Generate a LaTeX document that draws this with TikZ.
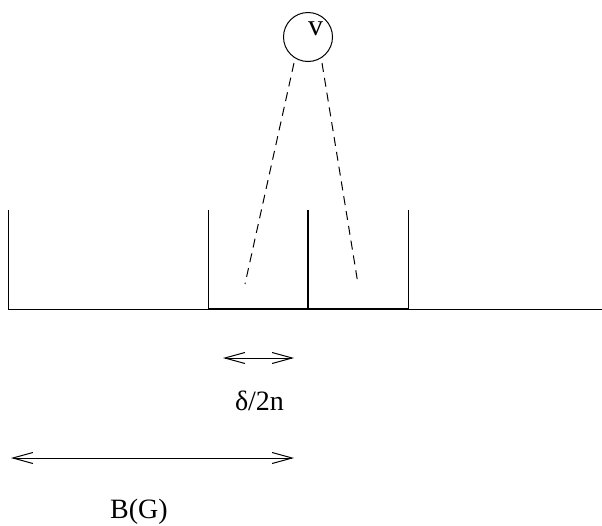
\documentclass[tikz,border=0pt]{standalone}
\usepackage{fontspec}
\setmainfont{Liberation Serif}
\usetikzlibrary{arrows.meta}
\begin{document}
\begin{tikzpicture}[x=1pt,y=-1pt,
  thinline/.style={line width=1pt},
  thickline/.style={line width=1.7pt},
  dashline/.style={line width=1pt,dash pattern=on 9pt off 6pt},
  dimarrow/.style={line width=1pt,{Straight Barb[length=20pt,width=11pt]}-{Straight Barb[length=20pt,width=11pt]}},
  lbl/.style={font=\fontsize{28}{32}\selectfont,inner sep=0pt,anchor=base}]
\useasboundingbox (0,0) rectangle (602,525);
% vertex
\node[draw,circle,line width=1pt,minimum size=49pt,inner sep=0pt] (v) at (308,37) {};
\node[lbl,font=\fontsize{30}{32}\selectfont] (vl) at (315.5,35) {v};
% base line and walls
\coordinate (b0) at (8,309);
\coordinate (b1) at (208,309);
\coordinate (b2) at (308,309);
\coordinate (b3) at (408,309);
\coordinate (b4) at (602,309);
\coordinate (t0) at (8,210);
\coordinate (t1) at (208,210);
\coordinate (t2) at (308,210);
\coordinate (t3) at (408,210);
\draw[thinline] (b0) -- (b1);
\draw[thinline] (b3) -- (b4);
\draw[thickline] (b1) -- (b3);
\draw[thinline] (t0) -- (b0);
\draw[thinline] (t1) -- (b1);
\draw[thickline] (t2) -- (b2);
\draw[thinline] (t3) -- (b3);
% dashed rays
\coordinate (l1) at (294,63);
\coordinate (l2) at (245,284);
\coordinate (r1) at (322,63);
\coordinate (r2) at (358,284);
\draw[dashline] (l1) -- (l2);
\draw[dashline] (r1) -- (r2);
% dimensions
\coordinate (s1) at (223,358);
\coordinate (s2) at (294,358);
\draw[dimarrow] (s1) -- (s2);
\node[lbl] (dl) at (259.5,410) {δ/2n};
\coordinate (g1) at (11,458);
\coordinate (g2) at (294,458);
\draw[dimarrow] (g1) -- (g2);
\node[lbl] (bl) at (139,518) {B(G)};
\end{tikzpicture}
\end{document}
